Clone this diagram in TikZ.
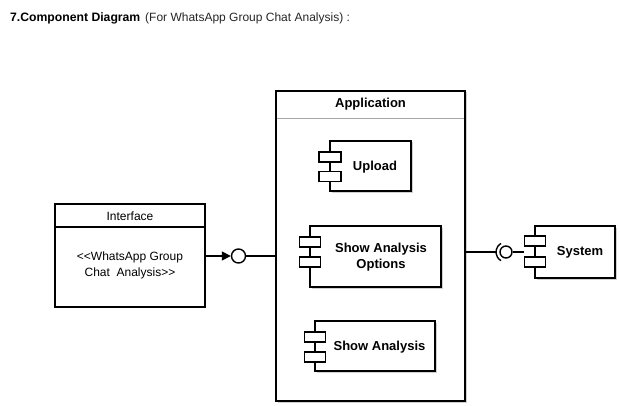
\documentclass[tikz,border=0pt]{standalone}
\usepackage{fontspec}
\setmainfont{Liberation Sans}
\usetikzlibrary{shadows,arrows.meta}
\begin{document}
\begin{tikzpicture}[x=1pt,y=-1pt,
  box/.style={draw=black,line width=1.4pt,fill=white},
  shad/.style={drop shadow={shadow xshift=1.5pt,shadow yshift=-1.5pt,fill=black,opacity=0.18}},
  port/.style={draw=black,line width=1.3pt,fill=white,inner sep=0pt},
  lbl/.style={font=\fontsize{13}{15}\selectfont\bfseries,align=center,inner sep=0pt},
  conn/.style={line width=1.4pt}
]
\useasboundingbox (0,0) rectangle (620,406);
% title
\node[anchor=base west,inner sep=0pt,font=\fontsize{12.2}{14}\selectfont\bfseries] (t1) at (10,22) {7.Component Diagram};
\node[anchor=base west,inner sep=0pt,font=\fontsize{12}{14}\selectfont,text=black!85] (t2) at (145,22) {(For WhatsApp Group Chat Analysis) :};

% Application
\path[box,shad,line width=1.8pt] (276,91) rectangle (465,401);
\node[draw=none,minimum width=189pt,minimum height=310pt,inner sep=0pt] (app) at (370.5,246) {};
\draw[gray!70,line width=0.8pt] (277,118) -- (464,118);
\node[lbl] (apptitle) at (370.5,104.5) {Application};

% Interface
\path[box,line width=1.6pt] (55,204) rectangle (205,307);
\node[minimum width=150pt,minimum height=103pt,inner sep=0pt] (intf) at (130,255.5) {};
\draw[line width=1.6pt] (55,227) -- (205,227);
\node[inner sep=0pt,font=\fontsize{12}{14}\selectfont] (intft) at (130,216) {Interface};
\node[inner sep=0pt,align=center,font=\fontsize{12}{16}\selectfont] (intfb) at (130,265) {<{}<WhatsApp Group\\Chat\ \ Analysis>{}>};

% Upload
\path[box,shad] (330,141) rectangle (411,191);
\node[minimum width=81pt,minimum height=50pt,inner sep=0pt] (up) at (370.5,166) {};
\node[port,minimum width=22pt,minimum height=10pt] (upa) at (330,157) {};
\node[port,minimum width=22pt,minimum height=10pt] (upb) at (330,176.5) {};
\node[lbl] (upt) at (375,167.5) {Upload};

% Show Analysis Options
\path[box,shad] (310,226) rectangle (441,287);
\node[minimum width=131pt,minimum height=61pt,inner sep=0pt] (sao) at (375.5,256.5) {};
\node[port,minimum width=21pt,minimum height=10pt] (saoa) at (310,242) {};
\node[port,minimum width=21pt,minimum height=10pt] (saob) at (310,262) {};
\node[lbl] (saot) at (381,257.5) {Show Analysis\\[1pt]Options};

% Show Analysis
\path[box,shad] (315,321) rectangle (435,371);
\node[minimum width=120pt,minimum height=50pt,inner sep=0pt] (sa) at (375,346) {};
\node[port,minimum width=21pt,minimum height=10pt] (saa) at (315,337) {};
\node[port,minimum width=21pt,minimum height=10pt] (sab) at (315,357) {};
\node[lbl] (sat) at (379.5,347.5) {Show Analysis};

% System
\path[box,shad] (535,226) rectangle (615,278);
\node[minimum width=80pt,minimum height=52pt,inner sep=0pt] (sys) at (575,252) {};
\node[port,minimum width=21pt,minimum height=10pt] (sysa) at (535,241) {};
\node[port,minimum width=21pt,minimum height=10pt] (sysb) at (535,262) {};
\node[lbl] (syst) at (580,252.5) {System};

% provided interface (left)
\node[circle,draw,line width=1.4pt,minimum size=14pt,inner sep=0pt,fill=white] (ball1) at (238.5,256) {};
\draw[conn,-{Triangle[length=9pt,width=9pt]}] (intf.east |- ball1) -- (ball1.west);
\draw[conn] (ball1.east) -- (app.west |- ball1);

% ball and socket (right)
\node[circle,draw,line width=1.4pt,minimum size=12pt,inner sep=0pt] (ball2) at (506,252) {};
\coordinate (sockc) at (506,252);
\draw[line width=1.4pt] ([shift={(120:10pt)}]sockc) arc[start angle=120,end angle=240,radius=10pt];
\draw[conn] (app.east |- sockc) -- ([xshift=-10pt]sockc);
\draw[conn] (ball2.east) -- (sysa.west |- ball2);
\end{tikzpicture}
\end{document}
